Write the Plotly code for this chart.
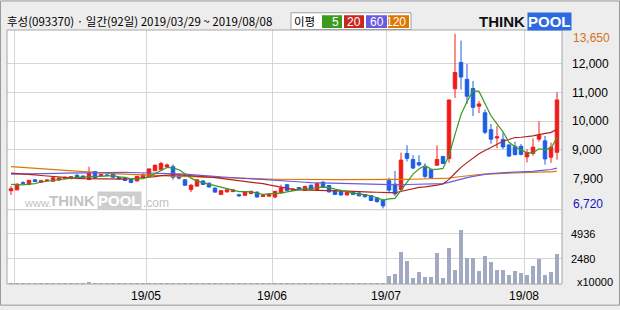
import pandas as pd
import plotly.graph_objects as go

# ---------------- data ----------------
holidays = ["2019-05-01", "2019-05-06", "2019-06-06"]
days = [d for d in pd.bdate_range("2019-03-29", "2019-08-08") if d.strftime("%Y-%m-%d") not in holidays]

opens = [7570, 7600, 7850, 7790, 7950, 7860, 7920, 7900, 7940, 7990,
         7990, 8110, 8080, 7960, 8240, 8090, 8120, 8150, 8040, 8020,
         7960, 7910, 8050, 8070, 8270, 8300, 8400, 8410, 8080, 7950,
         7610, 7730, 7910, 7830, 7660, 7440, 7530, 7540, 7430, 7410,
         7470, 7520, 7370, 7380, 7350, 7500, 7780, 7580, 7680, 7580,
         7760, 7610, 7870, 7750, 7570, 7540, 7420, 7540, 7490, 7430,
         7400, 7320, 7240, 7920, 7800, 7610, 8870, 8660, 8550, 8380,
         8300, 8460, 8760, 8690, 11130, 12050, 11460, 11140, 10520, 10290,
         9700, 9410, 9360, 9170, 9120, 9120, 8750, 8870, 9370, 9310,
         8740, 8910]
highs = [7730, 7820, 7900, 7950, 7980, 7950, 7960, 8050, 8030, 8060,
         8080, 8140, 8110, 8410, 8260, 8160, 8150, 8170, 8060, 8040,
         7980, 8080, 8180, 8350, 8480, 8580, 8520, 8490, 8140, 7980,
         7800, 7960, 7940, 7860, 7680, 7580, 7620, 7620, 7460, 7540,
         7560, 7540, 7440, 7470, 7560, 7780, 7800, 7650, 7700, 7740,
         7780, 7840, 7890, 7760, 7580, 7560, 7560, 7560, 7510, 7450,
         7420, 7340, 7260, 8030, 8260, 8900, 9160, 8810, 8810, 8530,
         8330, 9150, 8790, 10740, 13050, 12810, 12000, 11400, 10700, 10400,
         9900, 9830, 9600, 9180, 9280, 9200, 9020, 9400, 10000, 9480,
         9250, 11010]
lows = [7420, 7580, 7790, 7760, 7870, 7840, 7890, 7890, 7920, 7970,
        7970, 8020, 7990, 7940, 7990, 8060, 8080, 8030, 7960, 7920,
        7830, 7900, 8010, 8060, 8250, 8280, 8380, 7950, 7960, 7740,
        7520, 7720, 7770, 7680, 7500, 7420, 7500, 7520, 7360, 7390,
        7450, 7330, 7350, 7360, 7300, 7480, 7560, 7560, 7590, 7570,
        7600, 7600, 7680, 7500, 7420, 7400, 7410, 7420, 7370, 7330,
        7200, 7150, 6950, 7490, 7380, 7600, 8590, 8330, 8410, 8010,
        7990, 8440, 8500, 8550, 10810, 11100, 10600, 10180, 10280, 9550,
        9210, 9060, 9020, 8750, 8800, 8800, 8560, 8790, 9280, 8480,
        8540, 8650]
closes = [7640, 7800, 7830, 7930, 7890, 7920, 7940, 8020, 8010, 8040,
          8060, 8040, 8010, 8180, 8010, 8140, 8100, 8040, 7980, 7930,
          7860, 8070, 8120, 8330, 8460, 8520, 8470, 8040, 8010, 7760,
          7760, 7950, 7790, 7700, 7520, 7570, 7600, 7600, 7390, 7520,
          7550, 7350, 7410, 7450, 7550, 7660, 7580, 7630, 7610, 7720,
          7620, 7820, 7700, 7530, 7440, 7420, 7550, 7440, 7390, 7360,
          7230, 7190, 7040, 7590, 7460, 8640, 8700, 8360, 8470, 8070,
          8020, 8660, 8520, 10740, 11700, 11540, 10870, 10480, 10600, 9610,
          9370, 9450, 9100, 8780, 8830, 8840, 8900, 9090, 9510, 8680,
          9090, 10740]
volumes = [110, 120, 100, 115, 105, 110, 100, 125, 115, 110,
           120, 105, 110, 230, 140, 115, 110, 105, 100, 110,
           105, 115, 120, 130, 140, 135, 125, 140, 120, 115,
           110, 125, 110, 105, 115, 110, 105, 100, 110, 105,
           100, 105, 100, 105, 110, 120, 115, 105, 100, 110,
           105, 115, 110, 105, 110, 100, 105, 100, 105, 110,
           115, 120, 125, 835, 1030, 3190, 2310, 640, 1230, 740,
           740, 3090, 640, 3590, 1420, 5380, 2600, 2600, 1330, 2800,
           2210, 1420, 1420, 930, 1330, 1130, 930, 1820, 2500, 930,
           1230, 3000]
ma5 = [7790, 7780, 7770, 7800, 7818, 7874, 7902, 7940, 7956, 7986,
       8014, 8034, 8032, 8066, 8060, 8076, 8088, 8094, 8054, 8038,
       7982, 7976, 7992, 8062, 8168, 8300, 8380, 8364, 8300, 8160,
       8008, 7904, 7854, 7792, 7744, 7706, 7636, 7598, 7536, 7536,
       7532, 7482, 7444, 7456, 7462, 7484, 7530, 7574, 7606, 7640,
       7632, 7680, 7694, 7678, 7622, 7582, 7528, 7476, 7448, 7432,
       7394, 7322, 7242, 7282, 7302, 7584, 7886, 8150, 8326, 8448,
       8324, 8316, 8348, 8802, 9528, 10232, 10674, 11066, 11038, 10620,
       10186, 9902, 9626, 9262, 9106, 9000, 8890, 8888, 9034, 9004,
       9054, 9422]
ma20 = [8180, 8170, 8160, 8140, 8120, 8100, 8080, 8060, 8040, 8025,
        8010, 8000, 7990, 7985, 7980, 7980, 7978, 7975, 7972, 7976,
        7987, 8000, 8015, 8035, 8063, 8093, 8120, 8121, 8121, 8107,
        8092, 8087, 8076, 8052, 8028, 7999, 7974, 7952, 7923, 7902,
        7887, 7851, 7815, 7771, 7726, 7683, 7638, 7618, 7598, 7596,
        7589, 7582, 7578, 7569, 7565, 7558, 7555, 7547, 7547, 7539,
        7523, 7515, 7497, 7504, 7499, 7548, 7604, 7641, 7684, 7701,
        7721, 7763, 7804, 7965, 8178, 8384, 8550, 8702, 8862, 8975,
        9082, 9195, 9298, 9357, 9426, 9436, 9446, 9482, 9528, 9558,
        9608, 9712]
ma60 = [8150, 8150, 8152, 8155, 8158, 8160, 8165, 8170, 8175, 8180,
        8185, 8190, 8195, 8200, 8205, 8210, 8212, 8215, 8217, 8210,
        8205, 8200, 8195, 8190, 8188, 8185, 8180, 8175, 8165, 8150,
        8130, 8110, 8090, 8075, 8060, 8050, 8040, 8025, 8005, 7990,
        7975, 7960, 7945, 7930, 7915, 7905, 7895, 7885, 7875, 7865,
        7855, 7850, 7845, 7838, 7830, 7825, 7820, 7815, 7810, 7806,
        7799, 7789, 7775, 7770, 7763, 7775, 7787, 7793, 7801, 7801,
        7800, 7811, 7819, 7862, 7923, 7980, 8026, 8067, 8111, 8139,
        8164, 8187, 8203, 8211, 8217, 8222, 8229, 8247, 8272, 8287,
        8310, 8356]
ma120 = [8410, 8395, 8380, 8360, 8345, 8330, 8310, 8290, 8275, 8260,
         8245, 8235, 8220, 8205, 8195, 8185, 8175, 8165, 8155, 8150,
         8145, 8140, 8130, 8120, 8110, 8100, 8090, 8080, 8072, 8065,
         8060, 8055, 8050, 8045, 8040, 8030, 8020, 8010, 8000, 7995,
         7990, 7985, 7980, 7975, 7970, 7966, 7964, 7963, 7962, 7961,
         7960, 7959, 7958, 7957, 7956, 7955, 7954, 7953, 7952, 7951,
         7950, 7949, 7948, 7950, 7952, 7958, 7965, 7970, 7975, 7978,
         7980, 7985, 7990, 8010, 8040, 8070, 8095, 8115, 8135, 8150,
         8160, 8170, 8180, 8185, 8190, 8195, 8200, 8210, 8220, 8225,
         8230, 8250]
price_ticks = [9000, 10000, 11000, 12000]
vol_ticks = [2480, 4936]
title = "후성(093370) · 일간(92일) 2019/03/29 ~ 2019/08/08"

# ---------------- geometry helpers (pixels -> paper) ----------------
L, R, T, B = 7, 58, 30, 22
W, H = 620 - L - R, 310 - T - B
def fx(px):
    return (px - L) / W
def fy(py):
    return (310 - B - py) / H

idx = list(range(len(days)))
month_starts = [i for i in idx if i > 0 and days[i].month != days[i - 1].month]
grid_x = [i - 0.5 for i in month_starts]
grid_txt = ["" if days[i].month == 4 else days[i].strftime("%y/%m") for i in month_starts]

RED, BLUE = "#f01c1c", "#1c5ee4"
C5, C20, C60, C120 = "#3c9a1e", "#b42222", "#6a5ae0", "#e07800"

fig = go.Figure()
fig.add_trace(go.Candlestick(
    x=idx, open=opens, high=highs, low=lows, close=closes,
    increasing=dict(line=dict(color=RED, width=1), fillcolor=RED),
    decreasing=dict(line=dict(color=BLUE, width=1), fillcolor=BLUE),
    whiskerwidth=0, xaxis="x", yaxis="y", showlegend=False, hoverinfo="skip"))
for vals, col in [(ma120, C120), (ma60, C60), (ma20, C20), (ma5, C5)]:
    fig.add_trace(go.Scatter(x=idx, y=vals, mode="lines", line=dict(color=col, width=1.2),
                             xaxis="x", yaxis="y", showlegend=False, hoverinfo="skip"))
fig.add_trace(go.Bar(x=idx, y=volumes, marker=dict(color="#a2aac3", line=dict(width=0)),
                     width=0.78, xaxis="x2", yaxis="y2", showlegend=False, hoverinfo="skip"))

split = fy(212.5)
xr = [-0.667, 91.833]
fig.update_layout(
    width=620, height=310, margin=dict(l=L, r=R, t=T, b=B),
    paper_bgcolor="#ededed", plot_bgcolor="#ffffff", boxgap=0.17, bargap=0,
    xaxis=dict(domain=[0, 1], range=xr, anchor="y", tickvals=grid_x, showticklabels=False,
               showgrid=True, gridcolor="#d6d6d6", gridwidth=1, zeroline=False, ticks="",
               rangeslider=dict(visible=False), fixedrange=True),
    xaxis2=dict(domain=[0, 1], range=xr, anchor="y2", tickvals=grid_x, ticktext=grid_txt,
                showgrid=True, gridcolor="#d6d6d6", gridwidth=1, zeroline=False, ticks="",
                tickfont=dict(family="Liberation Sans", size=12, color="#000"), ticklabelstandoff=3),
    yaxis=dict(domain=[split, 1], range=[9000 - (212 - 151.3) * 34.48, 9000 + (151.3 - 30) * 34.48],
               side="right", tickvals=price_ticks, ticktext=[f"{v:,}" for v in price_ticks],
               showgrid=True, gridcolor="#d6d6d6", zeroline=False, ticks="", ticklabelstandoff=9,
               tickfont=dict(family="Liberation Sans", size=12, color="#000")),
    yaxis2=dict(domain=[0, split], range=[-25, 7319], side="right", tickvals=vol_ticks,
                ticktext=[str(v) for v in vol_ticks], showgrid=True, gridcolor="#d6d6d6",
                zeroline=False, ticks="", ticklabelstandoff=8,
                tickfont=dict(family="Liberation Sans", size=11, color="#000")),
)

shapes = [
    dict(type="rect", xref="paper", yref="paper", x0=fx(0.5), x1=fx(619.5), y0=fy(0.5), y1=fy(309.5),
         line=dict(color="#9a9a9a", width=1)),
    dict(type="rect", xref="paper", yref="paper", x0=fx(7), x1=fx(562), y0=fy(30), y1=fy(288),
         line=dict(color="#a6a6a6", width=1)),
    dict(type="line", xref="paper", yref="paper", x0=fx(7), x1=fx(562), y0=split, y1=split,
         line=dict(color="#c6c6c6", width=1)),
    dict(type="rect", xref="paper", yref="paper", x0=fx(291), x1=fx(411), y0=fy(12.5), y1=fy(29.5),
         fillcolor="#ffffff", line=dict(color="#a0a0a0", width=1)),
]
legend_boxes = [(322, 342, C5, "5"), (344, 364, "#c8281e", "20"), (366, 387, C60, "60"), (388, 409, C120, "120")]
for x0, x1, col, _ in legend_boxes:
    shapes.append(dict(type="rect", xref="paper", yref="paper", x0=fx(x0), x1=fx(x1), y0=fy(15), y1=fy(28),
                       fillcolor=col, line=dict(width=0)))
fig.update_layout(shapes=shapes)

ann = []
def A(text, xp, yp, size=12, color="#000", anchor="left", family="Liberation Sans", **kw):
    ann.append(dict(text=text, x=fx(xp), y=fy(yp), xref="paper", yref="paper", showarrow=False,
                    xanchor=anchor, yanchor="middle", font=dict(family=family, size=size, color=color), **kw))

A(title, 5, 21, size=11.5, family="Noto Sans CJK KR")
A("이평", 292, 21, size=11.5, family="Noto Sans CJK KR")
for x0, x1, col, lab in legend_boxes:
    A(lab, x1 - 1, 21.5, size=12, color="#ffffff", anchor="right")
A("<b>THINK</b>", 527, 21, size=15, color="#111", anchor="right", family="Liberation Sans")
A("<b>POOL</b>", 527, 21, size=15, color="#ffffff", anchor="left", family="Liberation Sans",
  bgcolor="#2d6ae2", borderpad=0)
# watermark
A("www.", 22, 206, size=11, color="#c2c2c2")
A("<b>THINK</b>", 97, 203, size=15, color="#c4c4c4", anchor="right")
A("<b>POOL</b>", 97, 203, size=15, color="#ffffff", bgcolor="#cdcdcd", borderpad=0)
A(".com", 141, 206, size=12, color="#c2c2c2")
# right-side extra labels
A("13,650", 571, 38, size=12, color="#d27316")
A("7,900", 571, 181, size=12)
A("6,720", 571, 207, size=12, color="#1414c0")
A("x10000", 575, 286, size=11)
fig.update_layout(annotations=ann)

fig.write_html("out.html")
